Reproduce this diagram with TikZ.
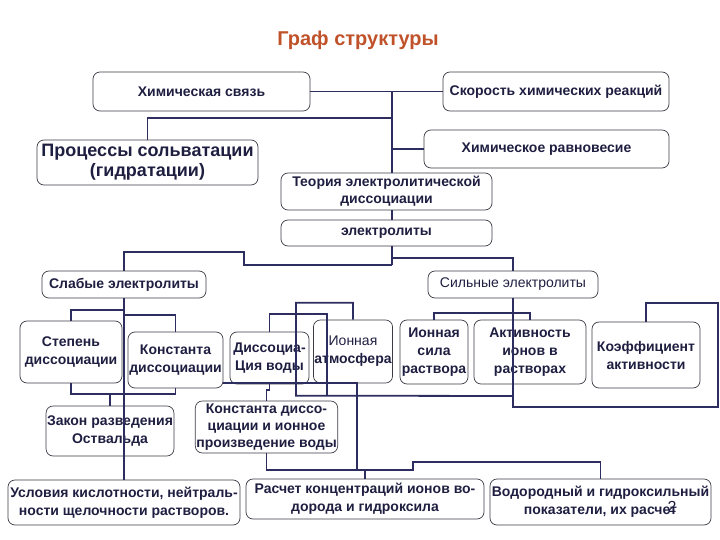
\documentclass[tikz,border=0pt]{standalone}
\usepackage{fontspec}
\setmainfont{Liberation Sans}
\usetikzlibrary{positioning}
\definecolor{titlered}{RGB}{192,82,42}
\definecolor{linknavy}{RGB}{45,45,95}
\definecolor{textnavy}{RGB}{30,30,65}
\definecolor{boxgray}{RGB}{60,60,70}

\begin{document}
\begin{tikzpicture}[
    x=1pt, y=-1pt,
    % Styles
    blok/.style={
        draw=boxgray, line width=0.7pt, rounded corners=7pt,
        align=center, text=textnavy, inner sep=1pt,
        font=\fontsize{14}{18}\selectfont\bfseries
    },
    link/.style={
        draw=linknavy, line width=1.8pt
    }
]
\useasboundingbox (0,0) rectangle (720,540);

% Title
\node[text=titlered, font=\fontsize{20}{22}\selectfont\bfseries] (title) at (358,40) {Граф структуры};

% Top level
\node[blok, minimum width=217pt, minimum height=39pt] (chem) at (201.5,91.5) {Химическая связь};
\node[blok, minimum width=226pt, minimum height=39pt] (rate) at (556,91.5) {Скорость химических реакций};
\node[blok, minimum width=221pt, minimum height=45pt, font=\fontsize{18}{20}\selectfont\bfseries] (solv) at (147.5,162.5) {Процессы сольватации\\(гидратации)};
\node[blok, minimum width=245pt, minimum height=38pt] (equil) at (546.5,149) {Химическое равновесие};
\node[blok, minimum width=211pt, minimum height=37pt, font=\fontsize{14}{17}\selectfont\bfseries] (theory) at (386.5,191.5) {Теория электролитической\\диссоциации};
\node[blok, minimum width=211pt, minimum height=26pt] (electro) at (386.5,233) {электролиты};

% Weak and strong
\node[blok, minimum width=164pt, minimum height=27pt] (weak) at (124,284.5) {Слабые электролиты};
\node[blok, minimum width=170pt, minimum height=27pt, font=\fontsize{14}{18}\selectfont] (strong) at (513,284.5) {Сильные электролиты};

% Middle row
\node[blok, minimum width=102pt, minimum height=62pt] (degree) at (71,352) {Степень\\диссоциации};
\node[blok, minimum width=95pt, minimum height=56pt] (kconst) at (175.5,360) {Константа\\диссоциации};
\node[blok, minimum width=79pt, minimum height=52pt] (water) at (269.5,358) {Диссоциа-\\Ция воды};
\node[blok, minimum width=76pt, minimum height=63pt] (atmos) at (353,351.5) {\mdseries Ионная\\\bfseries атмосфера};
\node[blok, minimum width=68pt, minimum height=64pt] (istr) at (434,352) {Ионная\\сила\\раствора};
\node[blok, minimum width=112pt, minimum height=64pt] (activ) at (530,352) {Активность\\ионов в\\растворах};
\node[blok, minimum width=108pt, minimum height=66pt] (coeff) at (646,355) {Коэффициент\\активности};

% Lower row
\node[blok, minimum width=124pt, minimum height=50pt] (ostw) at (110,431) {Закон разведения\\Оствальда};
\node[blok, minimum width=141pt, minimum height=52pt, font=\fontsize{14}{17}\selectfont\bfseries] (kw) at (266.5,427) {Константа диссо-\\циации и ионное\\произведение воды};

% Bottom row
\node[blok, minimum width=232pt, minimum height=45pt] (acid) at (124,502.5) {Условия кислотности, нейтраль-\\ности щелочности растворов.};
\node[blok, minimum width=238pt, minimum height=40pt] (calc) at (365,499) {Расчет концентраций ионов во-\\дорода и гидроксила};
\node[blok, minimum width=221pt, minimum height=46pt] (ph) at (600.5,502) {Водородный и гидроксильный\\показатели, их расчет};
\node[text=textnavy, font=\fontsize{16}{18}\selectfont] (pagenum) at (672,507) {2};

% Junctions on the trunk
\coordinate (trunk) at (392,91.5);
\coordinate (fork) at (392,265);

% Upper connectors
\draw[link] (chem.east) -- (rate.west);
\draw[link] (trunk) -- (trunk |- theory.north);
\draw[link] (trunk |- 0,118) -| (solv.north);
\draw[link] (trunk |- equil.west) -- (equil.west);
\draw[link] (trunk |- theory.south) -- (trunk |- electro.north);
\draw[link] (trunk |- electro.south) -- (fork);
\draw[link] (fork) -- (244,265) -- (244,252) -| (weak.north);
\draw[link] (trunk |- 0,258) -| (strong.north);

% Weak electrolytes
\draw[link] (weak.south) -- (acid.north);
\draw[link] (weak.south |- 0,310) -| (degree.north);
\draw[link] (weak.south |- 0,315) -| (kconst.north);
\draw[link] (degree.south) -- ++(0,11) -| (kconst.south);
\draw[link] (ostw.north) -- ++(0,-12);

% Water and ionic atmosphere
\draw[link] (water.north) -- ++(0,-18) -- ++(57.5,0) -- ++(0,82);
\draw[link] (atmos.north) -- ++(0,-17) -- ++(-57,0) -- ++(0,93) -- (strong.south |- 0,396);
\draw[link] (water.south) -- ++(0,6) -| (kw.north);

% Strong electrolytes
\draw[link] (strong.south) |- (718,407) -- (718,303) -| (coeff.north);
\draw[link] (istr.north) -- ++(0,-7) -| (activ.north);

% Towards the bottom row
\draw[link] (kconst.east |- 0,383) -- (357,383) -- (357,470);
\draw[link] (kw.south) |- (413,470) -- (413,462) -| (ph.north);
\draw[link] (calc.north) -- ++(0,-9);

\end{tikzpicture}
\end{document}
